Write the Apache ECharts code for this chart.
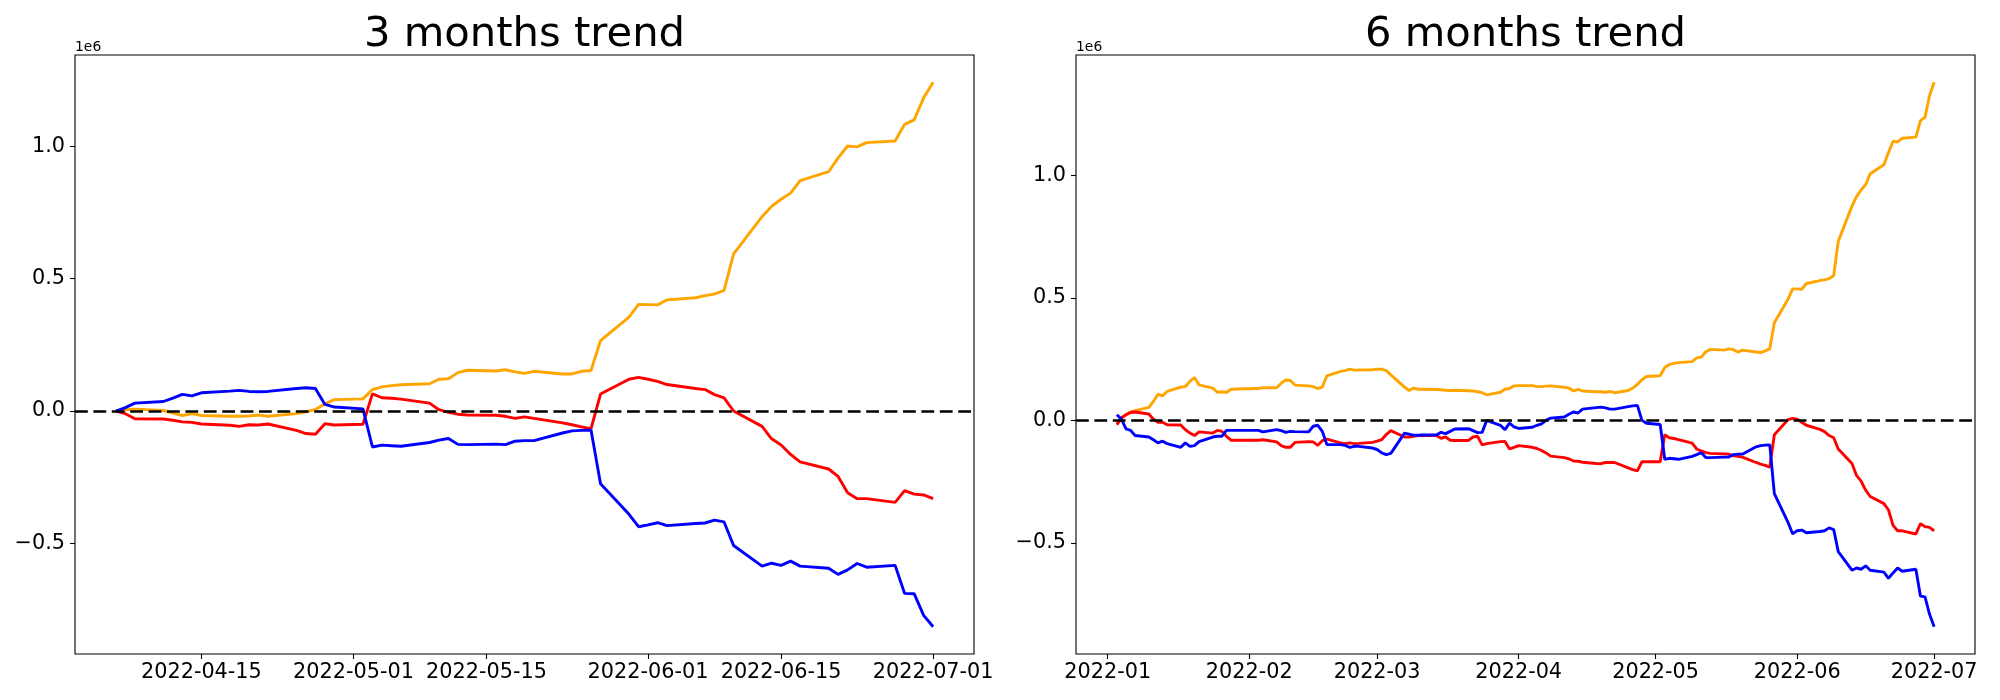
<!DOCTYPE html>
<html>
<head>
<meta charset="utf-8">
<script src="https://cdn.jsdelivr.net/npm/echarts@6/dist/echarts.min.js"></script>
<style>
html, body { margin: 0; padding: 0; background: #fff; }
#chart { width: 2000px; height: 700px; }
</style>
</head>
<body>
<div id="chart"></div>
<script>
// ---------------- 3 months trend ----------------
const dates3 = [
  '2022-04-06','2022-04-07','2022-04-08','2022-04-11','2022-04-12','2022-04-13','2022-04-14','2022-04-15',
  '2022-04-18','2022-04-19','2022-04-20','2022-04-21','2022-04-22','2022-04-25','2022-04-26','2022-04-27',
  '2022-04-28','2022-04-29',
  '2022-05-02','2022-05-03','2022-05-04','2022-05-05','2022-05-06','2022-05-09','2022-05-10','2022-05-11',
  '2022-05-12','2022-05-13','2022-05-16','2022-05-17','2022-05-18','2022-05-19','2022-05-20','2022-05-23',
  '2022-05-24','2022-05-25','2022-05-26','2022-05-27','2022-05-30','2022-05-31',
  '2022-06-01','2022-06-02','2022-06-03','2022-06-06','2022-06-07','2022-06-08','2022-06-09','2022-06-10',
  '2022-06-13','2022-06-14','2022-06-15','2022-06-16','2022-06-17','2022-06-20','2022-06-21','2022-06-22',
  '2022-06-23','2022-06-24','2022-06-27','2022-06-28','2022-06-29','2022-06-30',
  '2022-07-01'
];
const orange3 = [
  0, 5000, 7000, 2000, -8000, -17000, -10000, -17000,
  -20000, -20000, -19000, -15000, -20000, -10000, -3000, 6000,
  27000, 43000,
  46000, 81000, 91000, 96000, 99000, 103000, 120000, 122000,
  145000, 154000, 151000, 156000, 148000, 142000, 150000, 140000,
  140000, 150000, 153000, 266000, 355000, 403000,
  402000, 401000, 420000, 428000, 436000, 442000, 456000, 594000,
  734000, 773000, 800000, 823000, 870000, 904000, 956000, 1001000,
  998000, 1014000, 1020000, 1083000, 1100000, 1183000,
  1242000
];
const red3 = [
  0, -10000, -29000, -30000, -35000, -41000, -43000, -49000,
  -54000, -58000, -52000, -53000, -49000, -73000, -85000, -88000,
  -48000, -53000,
  -50000, 65000, 50000, 48000, 45000, 30000, 5000, -5000,
  -12000, -15000, -16000, -20000, -28000, -22000, -28000, -45000,
  -52000, -60000, -67000, 64000, 120000, 127000,
  120000, 112000, 100000, 85000, 81000, 62000, 50000, 0,
  -58000, -105000, -128000, -164000, -192000, -219000, -247000, -309000,
  -331000, -331000, -345000, -301000, -314000, -317000,
  -331000
];
const blue3 = [
  0, 13000, 30000, 36000, 49000, 63000, 57000, 69000,
  75000, 78000, 74000, 73000, 74000, 85000, 88000, 85000,
  25000, 15000,
  8000, -136000, -129000, -131000, -133000, -119000, -110000, -104000,
  -126000, -127000, -125000, -127000, -114000, -112000, -112000, -83000,
  -75000, -73000, -72000, -275000, -390000, -437000,
  -430000, -422000, -433000, -425000, -423000, -412000, -419000, -508000,
  -586000, -575000, -583000, -567000, -586000, -594000, -617000, -600000,
  -576000, -590000, -583000, -689000, -690000, -772000,
  -815000
];
const ticks3 = ['2022-04-15','2022-05-01','2022-05-15','2022-06-01','2022-06-15','2022-07-01'];

// ---------------- 6 months trend ----------------
const dates6 = [
  '2022-01-03','2022-01-04','2022-01-05','2022-01-06','2022-01-07',
  '2022-01-10','2022-01-11','2022-01-12','2022-01-13','2022-01-14',
  '2022-01-17','2022-01-18','2022-01-19','2022-01-20','2022-01-21',
  '2022-01-24','2022-01-25','2022-01-26','2022-01-27','2022-01-28',
  '2022-01-31','2022-02-01','2022-02-02','2022-02-03','2022-02-04',
  '2022-02-07','2022-02-08','2022-02-09','2022-02-10','2022-02-11',
  '2022-02-14','2022-02-15','2022-02-16','2022-02-17','2022-02-18',
  '2022-02-21','2022-02-22','2022-02-23','2022-02-24','2022-02-25',
  '2022-02-28','2022-03-01','2022-03-02','2022-03-03','2022-03-04',
  '2022-03-07','2022-03-08','2022-03-09','2022-03-10','2022-03-11',
  '2022-03-14','2022-03-15','2022-03-16','2022-03-17','2022-03-18',
  '2022-03-21','2022-03-22','2022-03-23','2022-03-24','2022-03-25',
  '2022-03-28','2022-03-29','2022-03-30','2022-03-31','2022-04-01',
  '2022-04-04','2022-04-05','2022-04-06','2022-04-07','2022-04-08',
  '2022-04-11','2022-04-12','2022-04-13','2022-04-14','2022-04-15',
  '2022-04-18','2022-04-19','2022-04-20','2022-04-21','2022-04-22',
  '2022-04-25','2022-04-26','2022-04-27','2022-04-28','2022-04-29',
  '2022-05-02','2022-05-03','2022-05-04','2022-05-05','2022-05-06',
  '2022-05-09','2022-05-10','2022-05-11','2022-05-12','2022-05-13',
  '2022-05-16','2022-05-17','2022-05-18','2022-05-19','2022-05-20',
  '2022-05-23','2022-05-24','2022-05-25','2022-05-26','2022-05-27',
  '2022-05-30','2022-05-31','2022-06-01','2022-06-02','2022-06-03',
  '2022-06-06','2022-06-07','2022-06-08','2022-06-09','2022-06-10',
  '2022-06-13','2022-06-14','2022-06-15','2022-06-16','2022-06-17',
  '2022-06-20','2022-06-21','2022-06-22','2022-06-23','2022-06-24',
  '2022-06-27','2022-06-28','2022-06-29','2022-06-30','2022-07-01'
];
const orange6 = [
  -14000, 10000, 23000, 35000, 40000,
  53000, 77000, 107000, 100000, 118000,
  136000, 138000, 159000, 175000, 145000,
  132000, 115000, 117000, 114000, 127000,
  129000, 129000, 130000, 130000, 133000,
  133000, 152000, 165000, 163000, 144000,
  141000, 138000, 130000, 136000, 182000,
  200000, 203000, 209000, 205000, 206000,
  207000, 209000, 209000, 203000, 186000,
  136000, 122000, 132000, 127000, 127000,
  126000, 125000, 123000, 122000, 123000,
  121000, 120000, 117000, 113000, 104000,
  115000, 127000, 130000, 141000, 142000,
  142000, 138000, 138000, 140000, 141000,
  135000, 132000, 120000, 127000, 120000,
  117000, 117000, 115000, 118000, 113000,
  122000, 132000, 147000, 166000, 179000,
  182000, 216000, 228000, 233000, 236000,
  240000, 255000, 258000, 280000, 290000,
  287000, 292000, 289000, 279000, 287000,
  279000, 277000, 284000, 292000, 399000,
  495000, 537000, 537000, 535000, 559000,
  571000, 574000, 579000, 591000, 731000,
  875000, 914000, 941000, 963000, 1007000,
  1044000, 1094000, 1140000, 1137000, 1152000,
  1157000, 1224000, 1238000, 1327000, 1381000
];
const red6 = [
  -18000, 10000, 23000, 32000, 34000,
  26000, 5000, -8000, -8000, -18000,
  -19000, -38000, -52000, -62000, -47000,
  -52000, -41000, -45000, -65000, -81000,
  -81000, -81000, -81000, -81000, -79000,
  -88000, -103000, -110000, -110000, -90000,
  -87000, -88000, -102000, -83000, -77000,
  -92000, -95000, -92000, -95000, -94000,
  -90000, -85000, -79000, -58000, -42000,
  -68000, -68000, -65000, -62000, -62000,
  -62000, -73000, -68000, -81000, -82000,
  -82000, -68000, -65000, -100000, -95000,
  -87000, -86000, -117000, -110000, -103000,
  -110000, -115000, -123000, -133000, -146000,
  -152000, -157000, -166000, -167000, -171000,
  -176000, -177000, -172000, -172000, -172000,
  -194000, -201000, -206000, -169000, -169000,
  -169000, -59000, -71000, -74000, -79000,
  -93000, -117000, -125000, -132000, -135000,
  -137000, -138000, -145000, -147000, -150000,
  -172000, -179000, -184000, -191000, -59000,
  3000, 8000, 5000, -8000, -20000,
  -37000, -46000, -62000, -71000, -117000,
  -176000, -225000, -248000, -285000, -311000,
  -340000, -366000, -429000, -451000, -451000,
  -464000, -422000, -434000, -437000, -451000
];
const blue6 = [
  23000, 5000, -35000, -41000, -62000,
  -68000, -79000, -92000, -85000, -95000,
  -110000, -92000, -106000, -103000, -87000,
  -68000, -65000, -65000, -41000, -41000,
  -41000, -41000, -41000, -41000, -47000,
  -38000, -42000, -49000, -45000, -46000,
  -47000, -24000, -20000, -45000, -99000,
  -99000, -102000, -110000, -106000, -106000,
  -113000, -119000, -133000, -140000, -135000,
  -52000, -56000, -61000, -61000, -60000,
  -60000, -49000, -54000, -45000, -35000,
  -34000, -42000, -50000, -49000, 0,
  -20000, -38000, -11000, -27000, -33000,
  -28000, -20000, -14000, 0, 9000,
  14000, 25000, 34000, 30000, 46000,
  52000, 54000, 51000, 46000, 46000,
  56000, 59000, 61000, 0, -12000,
  -17000, -159000, -155000, -157000, -159000,
  -147000, -140000, -132000, -152000, -152000,
  -150000, -150000, -140000, -138000, -138000,
  -108000, -103000, -101000, -100000, -299000,
  -417000, -463000, -451000, -448000, -459000,
  -454000, -451000, -439000, -446000, -536000,
  -612000, -603000, -608000, -594000, -612000,
  -620000, -645000, -623000, -603000, -616000,
  -608000, -718000, -721000, -792000, -843000
];
const ticks6 = ['2022-01-01','2022-02-01','2022-03-01','2022-04-01','2022-05-01','2022-06-01','2022-07-01'];

const yTicks = [-500000, 0, 500000, 1000000];
const titles = ['3 months trend', '6 months trend'];
const colors = { orange: '#FFA500', red: '#FF0000', blue: '#0000FF' };

// ---------------- helpers ----------------
function ts(s) { const p = s.split('-').map(Number); return Date.UTC(p[0], p[1] - 1, p[2]); }
function pad(n) { return (n < 10 ? '0' : '') + n; }
function fmtDay(v) { const d = new Date(v); return d.getUTCFullYear() + '-' + pad(d.getUTCMonth() + 1) + '-' + pad(d.getUTCDate()); }
function fmtMonth(v) { const d = new Date(v); return d.getUTCFullYear() + '-' + pad(d.getUTCMonth() + 1); }
function pairs(dates, vals) { return dates.map((d, i) => [ts(d), vals[i]]); }
function xRange(dates) {
  const a = ts(dates[0]), b = ts(dates[dates.length - 1]);
  const m = (b - a) * 0.05;
  return [a - m, b + m];
}
function yRange(arrs) {
  let lo = Infinity, hi = -Infinity;
  arrs.forEach(a => a.forEach(v => { lo = Math.min(lo, v); hi = Math.max(hi, v); }));
  const m = (hi - lo) * 0.05;
  return [lo - m, hi + m];
}
function yFmt(v) { return (v / 1e6).toFixed(1).replace('-', '\u2212'); }

const FONT = 'DejaVu Sans';
const grids = [
  { left: 75, top: 55, width: 899, height: 599 },
  { left: 1076, top: 55, width: 899, height: 599 }
];

const panels = [
  { dates: dates3, o: orange3, r: red3, b: blue3, ticks: ticks3, fmt: fmtDay },
  { dates: dates6, o: orange6, r: red6, b: blue6, ticks: ticks6, fmt: fmtMonth }
];

const option = {
  backgroundColor: '#fff',
  animation: false,
  textStyle: { fontFamily: FONT },
  grid: grids.map(g => Object.assign({ show: true, borderColor: '#000', borderWidth: 1.1, backgroundColor: 'transparent' }, g)),
  xAxis: panels.map((p, i) => {
    const xr = xRange(p.dates);
    const tv = p.ticks.map(ts);
    return {
      type: 'value', gridIndex: i, min: xr[0], max: xr[1], scale: true, position: 'bottom',
      axisLine: { show: false, onZero: false },
      splitLine: { show: false },
      axisTick: { show: true, inside: false, length: 5, lineStyle: { color: '#000', width: 1.1 }, customValues: tv },
      axisLabel: { customValues: tv, formatter: p.fmt, color: '#000', fontSize: 20.8, fontFamily: FONT, margin: 8, hideOverlap: false }
    };
  }),
  yAxis: panels.map((p, i) => {
    const yr = yRange([p.o, p.r, p.b]);
    return {
      type: 'value', gridIndex: i, min: yr[0], max: yr[1], position: 'left',
      axisLine: { show: false, onZero: false },
      splitLine: { show: false },
      axisTick: { show: true, inside: false, length: 5, lineStyle: { color: '#000', width: 1.1 }, customValues: yTicks },
      axisLabel: { customValues: yTicks, formatter: yFmt, color: '#000', fontSize: 20.8, fontFamily: FONT, margin: 10 }
    };
  }),
  series: [],
  graphic: []
};

panels.forEach((p, i) => {
  const mk = (name, vals, color, extra) => Object.assign({
    type: 'line', name: name, xAxisIndex: i, yAxisIndex: i,
    data: pairs(p.dates, vals), showSymbol: false, symbol: 'none',
    lineStyle: { color: color, width: 2.9 }, itemStyle: { color: color },
    silent: true, z: 2
  }, extra || {});
  option.series.push(mk('orange', p.o, colors.orange));
  option.series.push(mk('red', p.r, colors.red));
  option.series.push(mk('blue', p.b, colors.blue, {
    markLine: {
      silent: true, symbol: ['none', 'none'], label: { show: false },
      lineStyle: { color: '#000', type: [12.8, 5.6], width: 2.6 },
      emphasis: { disabled: true },
      data: [{ yAxis: 0 }]
    }
  }));
  const g = grids[i];
  option.graphic.push({
    type: 'text', x: g.left + g.width / 2, y: 35,
    style: { text: titles[i], fill: '#000', font: '41.7px "DejaVu Sans"', textAlign: 'center', textVerticalAlign: 'middle' }
  });
  option.graphic.push({
    type: 'text', x: g.left, y: 47,
    style: { text: '1e6', fill: '#000', font: '13.9px "DejaVu Sans"', textAlign: 'left', textVerticalAlign: 'middle' }
  });
});

const chart = echarts.init(document.getElementById('chart'), null, { renderer: 'canvas', width: 2000, height: 700 });
chart.setOption(option);
</script>
</body>
</html>
